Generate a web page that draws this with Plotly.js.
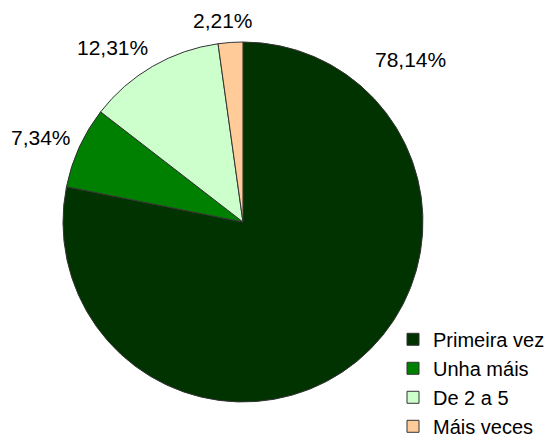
<!DOCTYPE html>
<html>
<head>
<meta charset="utf-8">
<script src="https://cdn.plot.ly/plotly-3.0.1.min.js"></script>
<style>html,body{margin:0;padding:0;background:#fff;}</style>
</head>
<body>
<div id="chart" style="width:550px;height:441px;"></div>
<script>
const categories = ["Primeira vez", "Unha máis", "De 2 a 5", "Máis veces"];
const percents = [78.14, 7.34, 12.31, 2.21];
const sliceColors = ["#003300", "#008000", "#CCFFCC", "#FFCC99"];

// label anchor spots (paper fractions) for each slice's percentage label
const labelSpots = [[0.747, 0.866], [0.075, 0.689], [0.205, 0.893], [0.405, 0.954]];

const FONT = "Liberation Sans, Arial, sans-serif";

const trace = {
  type: "pie",
  labels: categories,
  values: percents,
  sort: false,
  direction: "clockwise",
  rotation: 0,
  marker: { colors: sliceColors, line: { color: "#333333", width: 1 } },
  textinfo: "none",
  hoverinfo: "none",
  domain: { x: [0.1145, 0.769], y: [0.0884, 0.9048] }
};

const fmt = v => v.toFixed(2).replace(".", ",") + "%";

const annotations = percents.map((v, i) => ({
  xref: "paper", yref: "paper",
  x: labelSpots[i][0], y: labelSpots[i][1],
  xanchor: "center", yanchor: "middle",
  text: fmt(v), showarrow: false,
  font: { family: FONT, size: 21, color: "#000" }
}));

const layout = {
  width: 550, height: 441,
  margin: { l: 0, r: 0, t: 0, b: 0, autoexpand: false },
  separators: ",.",
  paper_bgcolor: "#fff",
  showlegend: true,
  annotations: annotations,
  legend: {
    x: 1, y: 0.132, xanchor: "right", yanchor: "middle",
    font: { family: FONT, size: 20, color: "#000" },
    bgcolor: "rgba(0,0,0,0)"
  }
};

Plotly.newPlot("chart", [trace], layout, { displayModeBar: false, staticPlot: true });
</script>
</body>
</html>
